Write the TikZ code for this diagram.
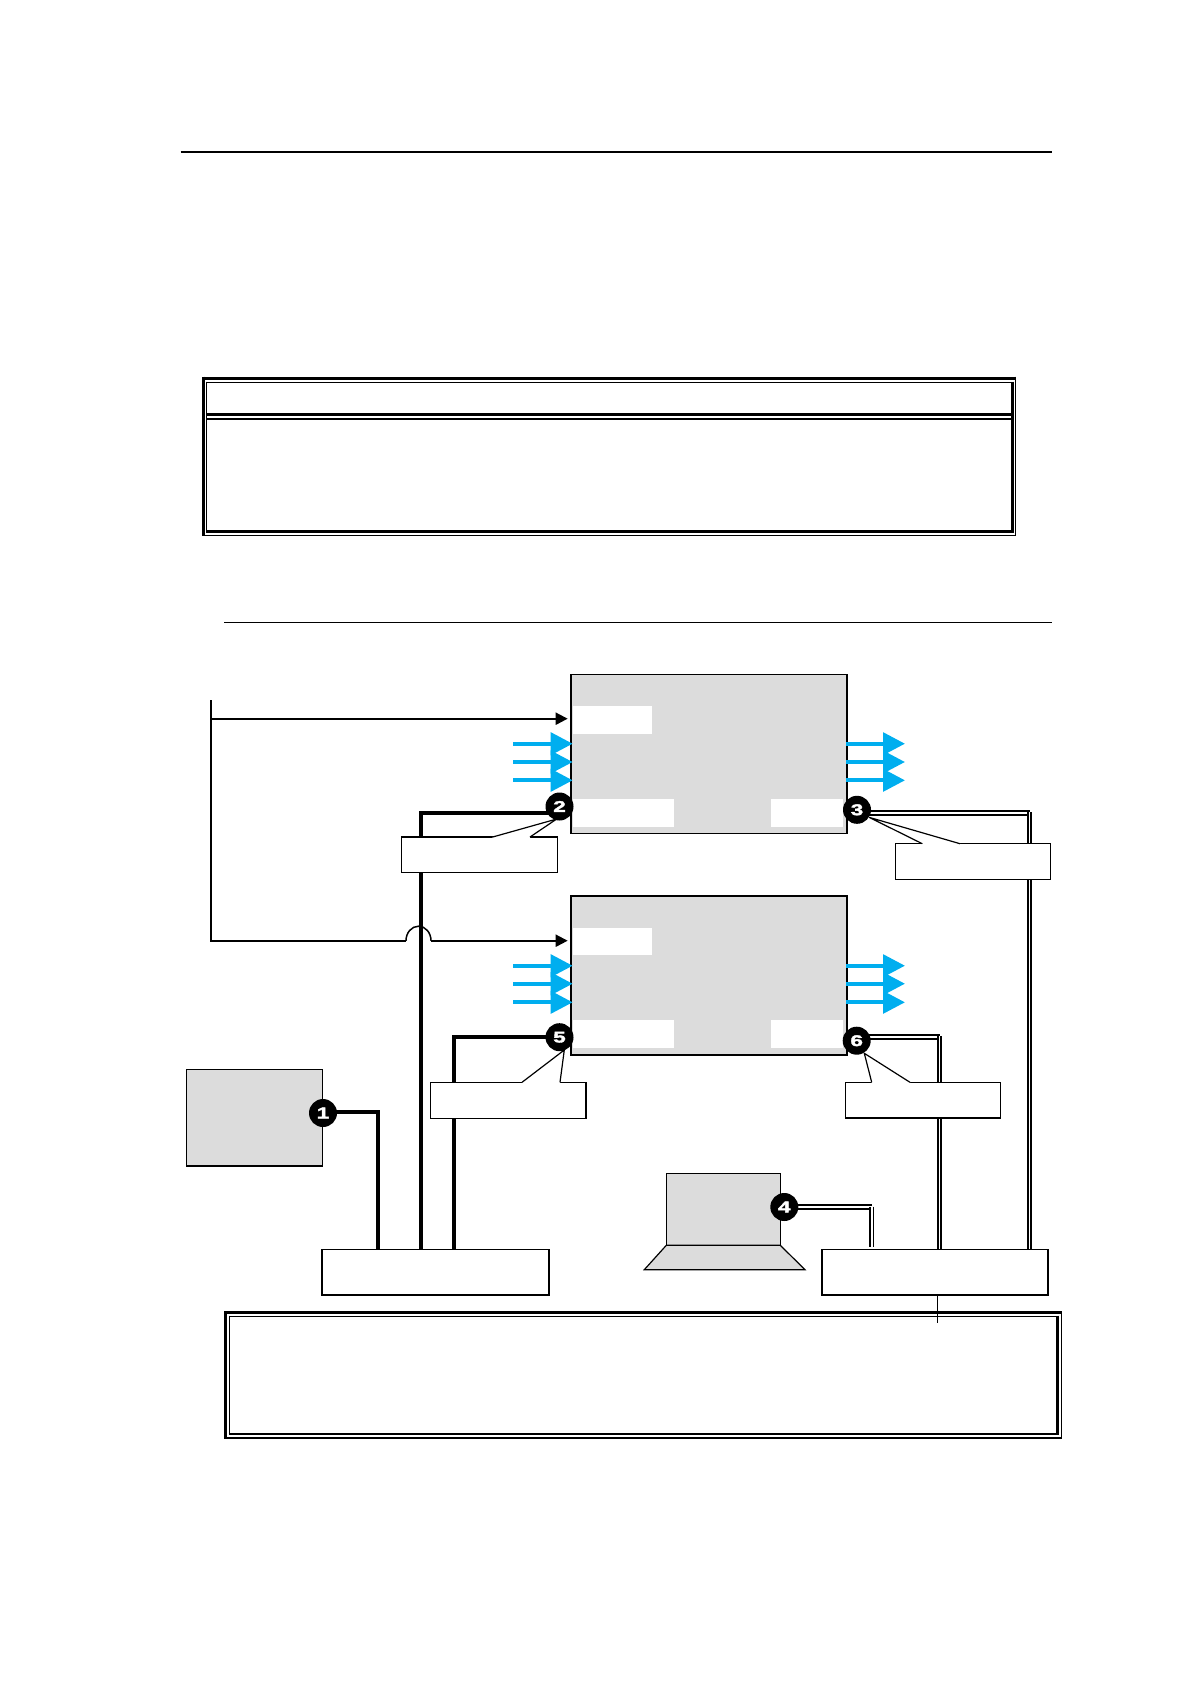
\documentclass[tikz,border=0pt]{standalone}
\usepackage{fontspec}
\setmainfont{Liberation Sans}
\newfontfamily\digitfont[FakeBold=2.5,FakeStretch=1.45]{Liberation Sans Bold}
\usetikzlibrary{arrows.meta}
\definecolor{panel}{HTML}{DCDCDC}
\definecolor{flow}{HTML}{00AEEF}
\tikzset{
  x=1pt,y=-1pt,
  box/.style={draw=black,fill=white,line width=1.2pt,inner sep=0pt,outer sep=0pt,anchor=north west,shape=rectangle},
  unit/.style={box,fill=panel,line width=1.8pt},
  slot/.style={fill=white,inner sep=0pt,outer sep=0pt,anchor=north west,shape=rectangle},
  badge/.style={circle,fill=black,text=white,inner sep=0pt,outer sep=0pt,minimum size=28pt,font=\digitfont\fontsize{15.5}{15.5}\selectfont},
  wire/.style={line width=3.8pt},
  twin/.style={double=white,double distance=1.7pt,line width=1.9pt},
  signal/.style={line width=2pt},
  sighead/.style={signal,-{Triangle[length=12pt,width=12pt]}},
  blue/.style={draw=flow,line width=4pt,-{Triangle[length=22pt,width=22pt,color=flow,fill=flow]}},
  tip/.style={line width=1.2pt},
  rulethin/.style={line width=1pt}
}
\begin{document}
\begin{tikzpicture}
\useasboundingbox (0,0) rectangle (1191,1684);
% page rules
\draw[line width=2pt] (180.5,152) -- (1052,152);
\draw[rulethin] (224,622) -- (1052,622);
% top frame
\draw[line width=1.2pt] (1015.2,376.7) -- (1015.2,535.4) -- (202.3,535.4);
\draw[line width=3pt] (202.3,378) -- (1015.8,378) (203.8,376.7) -- (203.8,536);
\draw[line width=1.3pt] (206.8,382.3) -- (1012,382.3) (206.8,381.7) -- (206.8,533);
\draw[line width=2.5pt] (1012.5,381.7) -- (1012.5,533.3);
\draw[line width=3.2pt] (206,531.7) -- (1013.7,531.7);
\draw[line width=3pt] (206,414.8) -- (1013.7,414.8);
\draw[line width=1.5pt] (206,418.8) -- (1013.7,418.8);
% bottom frame
\draw[line width=1.5pt] (1061.3,1311) -- (1061.3,1437.9) -- (224,1437.9);
\draw[line width=3pt] (224,1312.5) -- (1062,1312.5) (225.5,1311) -- (225.5,1438.7);
\draw[line width=1pt] (229.3,1316.2) -- (1056,1316.2) (229.3,1315.7) -- (229.3,1434);
\draw[line width=3.2pt] (1057.4,1315.7) -- (1057.4,1435);
\draw[line width=2pt] (228.7,1434.2) -- (1059,1434.2);
% buses
\node[box,line width=1.2pt,minimum width=227pt,minimum height=46pt] (busL) at (321.5,1249.3) {};
\node[box,line width=1.2pt,minimum width=226.5pt,minimum height=46pt] (busR) at (821.7,1249.3) {};
\draw[line width=2pt] (busL.north west) |- (busL.south east) -- (busL.north east);
\draw[line width=2pt] (busR.north west) |- (busR.south east) -- (busR.north east);
\coordinate (stub) at (937.3,1322.7);
\draw[line width=1pt] (busR.south -| stub) -- (stub);
% units
\node[unit,minimum width=276.5pt,minimum height=159pt] (unitA) at (570.7,674.5) {};
\node[unit,minimum width=276.5pt,minimum height=159pt] (unitB) at (570.7,896) {};
\node[slot,minimum width=79.5pt,minimum height=27.7pt] (sA1) at (572.7,706) {};
\node[slot,minimum width=101.6pt,minimum height=27.7pt] (sA2) at (572.7,799) {};
\node[slot,minimum width=71.7pt,minimum height=27.7pt] (sA3) at (771,799) {};
\node[slot,minimum width=79.5pt,minimum height=27.7pt] (sB1) at (572.7,927.5) {};
\node[slot,minimum width=101.6pt,minimum height=27.7pt] (sB2) at (572.7,1020) {};
\node[slot,minimum width=71.7pt,minimum height=27.7pt] (sB3) at (771,1020) {};
\node[unit,line width=1.5pt,minimum width=136pt,minimum height=96.3pt] (src) at (186.3,1069.7) {};
% laptop
\node[unit,line width=1.5pt,minimum width=114pt,minimum height=72pt] (screen) at (666.3,1173.3) {};
\draw[line width=1.2pt,fill=panel] (screen.south west) -- (screen.south east) -- (805,1269.7) -- (644.3,1269.7) -- cycle;
% shared signal line
\coordinate (top) at (210.7,700);
\coordinate (inA) at (570.7,718.7);
\coordinate (inB) at (570.7,940.7);
\coordinate (hopL) at (406,940.7);
\coordinate (hopR) at (431,940.7);
\draw[signal] (top) -- (top |- inB) -- (hopL);
\draw[sighead] (top |- inA) -- ([xshift=-3pt]inA);
\draw[sighead] (hopR) -- ([xshift=-3pt]inB);
% thick wires
\coordinate (w1) at (378.3,1111.7);
\coordinate (w2) at (421,812.7);
\coordinate (w5) at (454,1036.7);
\draw[wire] (323,1111.7) -- (w1) -- (w1 |- busL.north);
\draw[wire] (559,812.7) -- (w2) -- (w2 |- busL.north);
\draw[wire] (559,1036.7) -- (w5) -- (w5 |- busL.north);
\draw[line width=1.5pt] (hopL) arc[start angle=180,end angle=360,x radius=12.5,y radius=14.5];
% double wires
\coordinate (d3) at (1029.5,812.9);
\coordinate (d6) at (939.5,1036.9);
\coordinate (d4) at (871.7,1207.2);
\draw[twin] (857,812.9) -- (d3);
\draw[twin] ([yshift=0.5pt]d3) -- (d3 |- busR.north);
\draw[twin] (857,1036.9) -- (d6);
\draw[twin] ([yshift=0.5pt]d6) -- (d6 |- busR.north);
\draw[twin] (784.3,1207.2) -- (d4);
\draw[twin] ([yshift=0.5pt]d4) -- ([yshift=2.5pt]d4 |- busR.north);
% blue arrows
\foreach \n/\y in {a/743.7,b/762,c/780.3,d/965.7,e/983.7,f/1002.3}{
  \draw[blue] (513,\y) -- (572.7,\y);
  \draw[blue] (846,\y) -- (905,\y);
}
% callouts
\node[box,minimum width=155.6pt,minimum height=35.7pt] (call2) at (401.7,837) {};
\node[box,minimum width=155.4pt,minimum height=36pt] (call3) at (895.3,843.7) {};
\node[box,minimum width=155.7pt,minimum height=36pt] (call5) at (430.3,1082.3) {};
\node[box,minimum width=155.4pt,minimum height=35.7pt] (call6) at (845.3,1082.3) {};
\fill[white] (492.7,837) -- (556.7,819) -- (530,837) -- (530,838) -- (492.7,838) -- cycle;
\fill[white] (960,843.7) -- (869,817.3) -- (922.3,843.7) -- (922.3,844.7) -- (960,844.7) -- cycle;
\fill[white] (522,1082.3) -- (564.3,1050) -- (560,1082.3) -- (560,1083.3) -- (522,1083.3) -- cycle;
\fill[white] (871.7,1082.3) -- (864.3,1053.3) -- (910,1082.3) -- (910,1083.3) -- (871.7,1083.3) -- cycle;
\draw[tip] (492.7,837) -- (556.7,819) -- (530,837);
\draw[tip] (960,843.7) -- (869,817.3) -- (922.3,843.7);
\draw[tip] (522,1082.3) -- (564.3,1050) -- (560,1082.3);
\draw[tip] (871.7,1082.3) -- (864.3,1053.3) -- (910,1082.3);
% badges
\node[badge] (n1) at (323,1113) {1};
\node[badge] (n2) at (559.5,806.5) {2};
\node[badge] (n3) at (857,809.8) {3};
\node[badge] (n4) at (784.3,1207) {4};
\node[badge] (n5) at (559.5,1037.2) {5};
\node[badge] (n6) at (856.7,1040.7) {6};
\end{tikzpicture}
\end{document}
